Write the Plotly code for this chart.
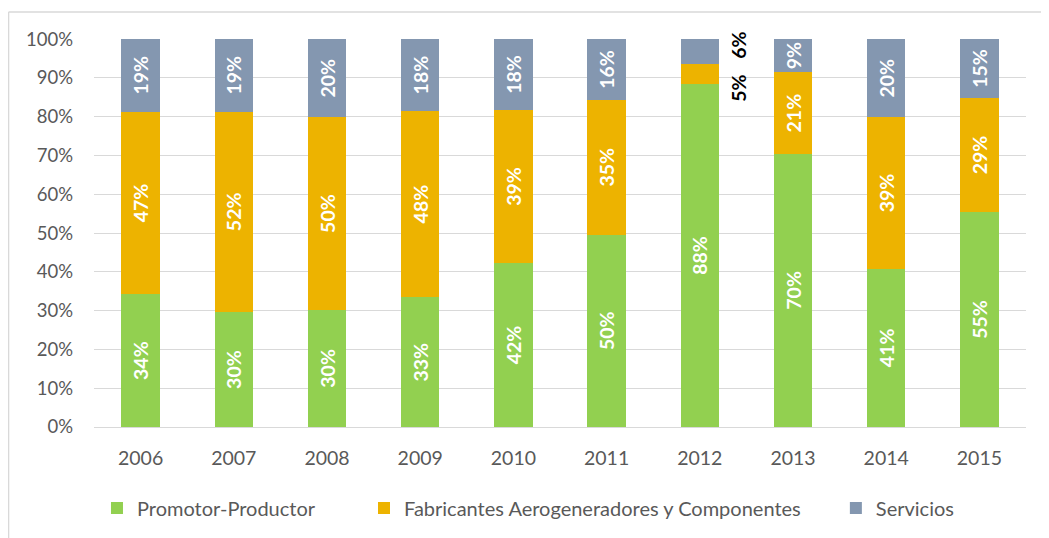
import plotly.graph_objects as go

years = ["2006", "2007", "2008", "2009", "2010", "2011", "2012", "2013", "2014", "2015"]
promotor = [34.2, 29.6, 30.2, 33.4, 42.3, 49.6, 88.4, 70.4, 40.8, 55.4]
fabricantes = [47.1, 51.7, 49.6, 48.1, 39.4, 34.7, 5.2, 21.0, 39.0, 29.4]
servicios = [18.7, 18.7, 20.2, 18.4, 18.3, 15.7, 6.4, 8.6, 20.2, 15.2]
names = ["Promotor-Productor", "Fabricantes Aerogeneradores y Componentes", "Servicios"]
colors = ["#92D050", "#EDB300", "#8497B0"]
outside_year = "2012"

FONT = "Lato, 'Open Sans', sans-serif"
LBL = 19.5

fig = go.Figure()
legend_ids = ["legend", "legend2", "legend3"]
for name, vals, col, lg in zip(names, [promotor, fabricantes, servicios], colors, legend_ids):
    texts = ["" if y == outside_year and name != names[0] else f"{round(v)}%" for y, v in zip(years, vals)]
    fig.add_trace(go.Bar(
        x=years, y=vals, name=name, marker=dict(color=col, line=dict(width=0)),
        text=texts, texttemplate="%{text}", textposition="inside", insidetextanchor="middle",
        textangle=-90, textfont=dict(color="white", size=LBL, family=FONT, weight="bold"),
        constraintext="none", cliponaxis=False, hoverinfo="skip", legend=lg,
    ))

i = years.index(outside_year)
fig.add_annotation(x=i, y=promotor[i], text=f"<b>{round(fabricantes[i])}%</b>",
                   textangle=-90, showarrow=False, xshift=38, yshift=-4,
                   font=dict(color="black", size=LBL, family=FONT))
fig.add_annotation(x=i, y=100, text=f"<b>{round(servicios[i])}%</b>",
                   textangle=-90, showarrow=False, xshift=38, yshift=-6,
                   font=dict(color="black", size=LBL, family=FONT))

# outer chart border (light)
fig.add_shape(type="line", xref="paper", yref="paper", x0=-0.0917, x1=-0.0917, y0=-0.32, y1=1.0694,
              line=dict(color="#D9D9D9", width=1.5))
fig.add_shape(type="line", xref="paper", yref="paper", x0=-0.0917, x1=1.03, y0=1.0694, y1=1.0694,
              line=dict(color="#D9D9D9", width=1.5))

leg_common = dict(orientation="h", y=-0.2057, yanchor="middle", xanchor="left",
                  font=dict(size=20, color="#595959", family=FONT), itemwidth=30,
                  itemclick=False, bgcolor="rgba(0,0,0,0)")

fig.update_layout(
    barmode="stack", bargap=0.59,
    width=1041, height=530,
    margin=dict(l=86, r=23, t=31, b=110),
    plot_bgcolor="white", paper_bgcolor="white",
    font=dict(family=FONT, color="#595959", size=18),
    showlegend=True,
    legend=dict(x=0.0032, **leg_common),
    legend2=dict(x=0.2897, **leg_common),
    legend3=dict(x=0.796, **leg_common),
)
fig.update_xaxes(type="category", range=[-0.5, len(years) - 0.5], showgrid=False, showline=True,
                 linecolor="#D9D9D9", linewidth=1,
                 ticks="", tickfont=dict(size=19.5, color="#595959"), ticklabelstandoff=14)
fig.update_yaxes(range=[0, 100.01], tickvals=list(range(0, 101, 10)),
                 ticktext=[f"{v}%" for v in range(0, 101, 10)], showgrid=True, gridcolor="#D9D9D9",
                 gridwidth=1, zeroline=False, showline=False, ticks="",
                 tickfont=dict(size=18.5, color="#595959"), ticklabelstandoff=20)

fig.write_html("out.html")
